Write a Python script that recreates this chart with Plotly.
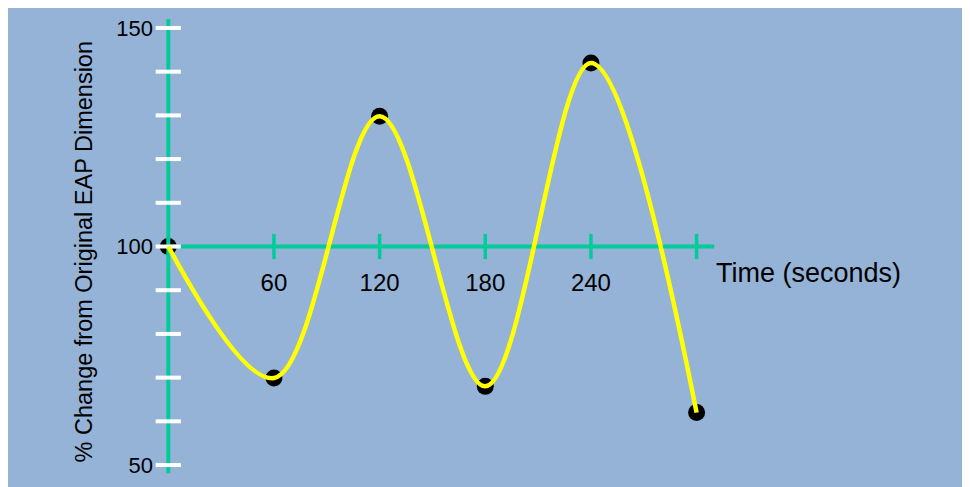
import plotly.graph_objects as go

# data
time_s = [0, 60, 120, 180, 240, 300]
pct_change = [100, 69.9, 129.8, 68.0, 142.0, 62.0]

x_tick_vals = [60, 120, 180, 240]
x_tick_marks = [60, 120, 180, 240, 300]
y_tick_vals = [50, 100, 150]
y_tick_marks = [50, 60, 70, 80, 90, 100, 110, 120, 130, 140, 150]

BG = '#95b3d7'
GREEN = '#00cc99'
FONT = 'Liberation Sans, Arial, sans-serif'

fig = go.Figure()

# black dots underneath everything else
fig.add_trace(go.Scatter(
    x=time_s, y=pct_change, mode='markers',
    marker=dict(color='black', size=17), cliponaxis=False, hoverinfo='skip'
))

# axis lines (crossing at 0 / 100)
fig.add_trace(go.Scatter(
    x=[0, 310], y=[100, 100], mode='lines',
    line=dict(color=GREEN, width=4), cliponaxis=False, hoverinfo='skip'
))
fig.add_trace(go.Scatter(
    x=[0, 0], y=[48.1, 152], mode='lines',
    line=dict(color=GREEN, width=4), cliponaxis=False, hoverinfo='skip'
))

# tick marks that cross the axes
fig.add_trace(go.Scatter(
    x=x_tick_marks, y=[100] * len(x_tick_marks), mode='markers',
    marker=dict(symbol='line-ns', size=18, line=dict(color=GREEN, width=3.5)),
    cliponaxis=False, hoverinfo='skip'
))
fig.add_trace(go.Scatter(
    x=[0] * len(y_tick_marks), y=y_tick_marks, mode='markers',
    marker=dict(symbol='line-ew', size=18, line=dict(color='white', width=4)),
    cliponaxis=False, hoverinfo='skip'
))

# yellow smoothed curve on top
fig.add_trace(go.Scatter(
    x=time_s, y=pct_change, mode='lines',
    line=dict(color='#ffff00', width=4.5, shape='spline', smoothing=1),
    cliponaxis=False, hoverinfo='skip'
))

# the page body adds an 8px white margin, which gives the white border
fig.update_layout(
    width=970, height=487,
    margin=dict(l=132, r=48, t=8, b=21),
    paper_bgcolor=BG,
    plot_bgcolor='rgba(0,0,0,0)',
    showlegend=False,
    hovermode=False,
    font=dict(family=FONT, color='black'),
    xaxis=dict(
        range=[-16.07, 432.54], anchor='free', position=(100 - 47.95) / (152.05 - 47.95),
        tickvals=x_tick_vals, ticks='outside', ticklen=15, tickcolor='rgba(0,0,0,0)',
        showgrid=False, zeroline=False, showline=False,
        tickfont=dict(size=24, family=FONT, color='black'),
    ),
    yaxis=dict(
        range=[47.95, 152.05], anchor='free', position=28.3 / 790,
        tickvals=y_tick_vals, ticks='outside', ticklen=11, tickcolor='rgba(0,0,0,0)',
        showgrid=False, zeroline=False, showline=False,
        tickfont=dict(size=22, family=FONT, color='black'),
    ),
    annotations=[
        dict(text='Time (seconds)', xref='x', yref='y', x=310, y=94.0,
             xanchor='left', yanchor='middle', showarrow=False,
             font=dict(size=27, family=FONT, color='black')),
        dict(text='% Change from Original EAP Dimension', xref='paper', yref='paper',
             x=(84 - 140) / 790, y=(474 - 251) / 458, textangle=-90,
             xanchor='center', yanchor='middle', showarrow=False,
             font=dict(size=23.5, family=FONT, color='black')),
    ],
)

fig.write_html('out.html')
